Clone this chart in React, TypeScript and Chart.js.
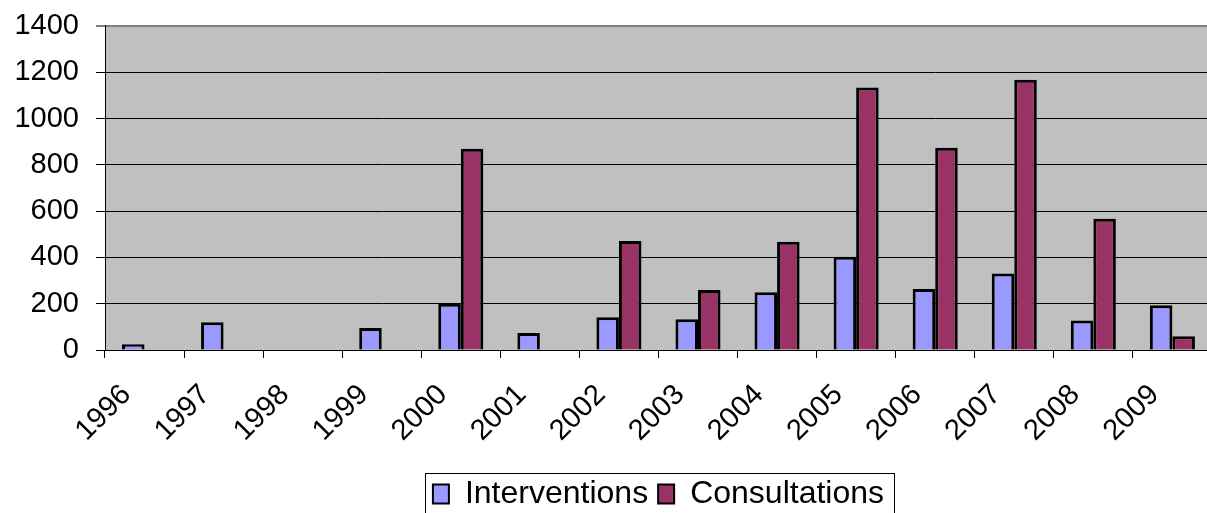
import React, { useEffect, useRef } from "react";
import { Chart, registerables } from "chart.js";

Chart.register(...registerables);

const years = ["1996", "1997", "1998", "1999", "2000", "2001", "2002", "2003", "2004", "2005", "2006", "2007", "2008", "2009"];
const interventions = [25, 120, 0, 95, 200, 73, 141, 133, 249, 403, 264, 331, 127, 193];
const consultations = [0, 0, 0, 0, 870, 0, 471, 259, 468, 1134, 874, 1168, 567, 59];
const yTicks = [0, 200, 400, 600, 800, 1000, 1200, 1400];

const FONT = "'Liberation Sans', Arial, sans-serif";

const plotBg = {
  id: "plotBg",
  beforeDraw(chart: any) {
    const { ctx, chartArea } = chart;
    ctx.save();
    ctx.fillStyle = "#C0C0C0";
    ctx.fillRect(chartArea.left, chartArea.top, chartArea.right - chartArea.left, chartArea.bottom - chartArea.top);
    ctx.restore();
  },
};

const legendBorder = {
  id: "legendBorder",
  afterDraw(chart: any) {
    const lg = chart.legend;
    if (!lg || !lg.legendHitBoxes || !lg.legendHitBoxes.length) return;
    const boxes = lg.legendHitBoxes;
    let l = Infinity, r = -Infinity, t = Infinity;
    for (const h of boxes) {
      l = Math.min(l, h.left);
      r = Math.max(r, h.left + h.width);
      t = Math.min(t, h.top);
    }
    const { ctx } = chart;
    ctx.save();
    ctx.strokeStyle = "#000";
    ctx.lineWidth = 1;
    const x0 = Math.round(l - 8) + 0.5;
    const y0 = Math.round(t - 5) + 0.5;
    ctx.strokeRect(x0, y0, Math.round(r - l + 18), 80);
    ctx.restore();
  },
};

export default function App() {
  const ref = useRef<HTMLCanvasElement>(null);
  useEffect(() => {
    document.body.style.margin = "0";
    document.body.style.overflow = "hidden";
    const chart = new Chart(ref.current!, {
      type: "bar",
      data: {
        labels: years,
        datasets: [
          {
            label: "Interventions",
            data: interventions,
            backgroundColor: "#9999FF",
            borderColor: "#000000",
            borderWidth: 3,
          },
          {
            label: "Consultations",
            data: consultations,
            backgroundColor: "#993366",
            borderColor: "#000000",
            borderWidth: 3,
          },
        ],
      },
      options: {
        animation: false,
        responsive: false,
        maintainAspectRatio: false,
        layout: { padding: { top: 0, right: 0, left: 0, bottom: 0 } },
        datasets: { bar: { categoryPercentage: 0.57, barPercentage: 1.0 } },
        plugins: {
          tooltip: { enabled: false },
          legend: {
            position: "bottom",
            fullSize: false,
            labels: {
              font: { family: FONT, size: 32 },
              color: "#000",
              boxWidth: 16,
              boxHeight: 19,
              padding: 10,
              generateLabels(chart: any) {
                const items = Chart.defaults.plugins.legend.labels.generateLabels(chart);
                return items.map((it: any) => ({ ...it, lineWidth: 2 }));
              },
            },
          },
        },
        scales: {
          x: {
            afterFit(axis: any) {
              axis.height = 118;
            },
            grid: { drawOnChartArea: false, drawTicks: true, tickLength: 8, color: "#000", offset: true },
            border: { color: "#000", width: 1 },
            ticks: {
              font: { family: FONT, size: 29 },
              color: "#000",
              maxRotation: 45,
              minRotation: 45,
              padding: 20,
              labelOffset: -18,
            },
          },
          y: {
            min: 0,
            max: 1400,
            afterFit(axis: any) {
              axis.width = 105;
            },
            afterBuildTicks(axis: any) {
              axis.ticks = yTicks.map((v) => ({ value: v }));
            },
            grid: {
              color: (c: any) => (c.tick && c.tick.value === 1400 ? "#808080" : "#000"),
              lineWidth: (c: any) => (c.tick && c.tick.value === 1400 ? 2 : 1),
              tickLength: 9,
              drawTicks: true,
            },
            border: { color: "#000", width: 1 },
            ticks: {
              font: { family: FONT, size: 29, lineHeight: 0.62 },
              color: "#000",
              padding: 17,
              callback: (v: any) => String(v),
            },
          },
        },
      },
      plugins: [plotBg, legendBorder],
    });
    return () => chart.destroy();
  }, []);
  return (
    <div style={{ position: "absolute", left: 0, top: 0, width: 1207, height: 513, overflow: "hidden" }}>
      <canvas ref={ref} width={1217} height={520} style={{ width: 1217, height: 520, display: "block" }} />
    </div>
  );
}
